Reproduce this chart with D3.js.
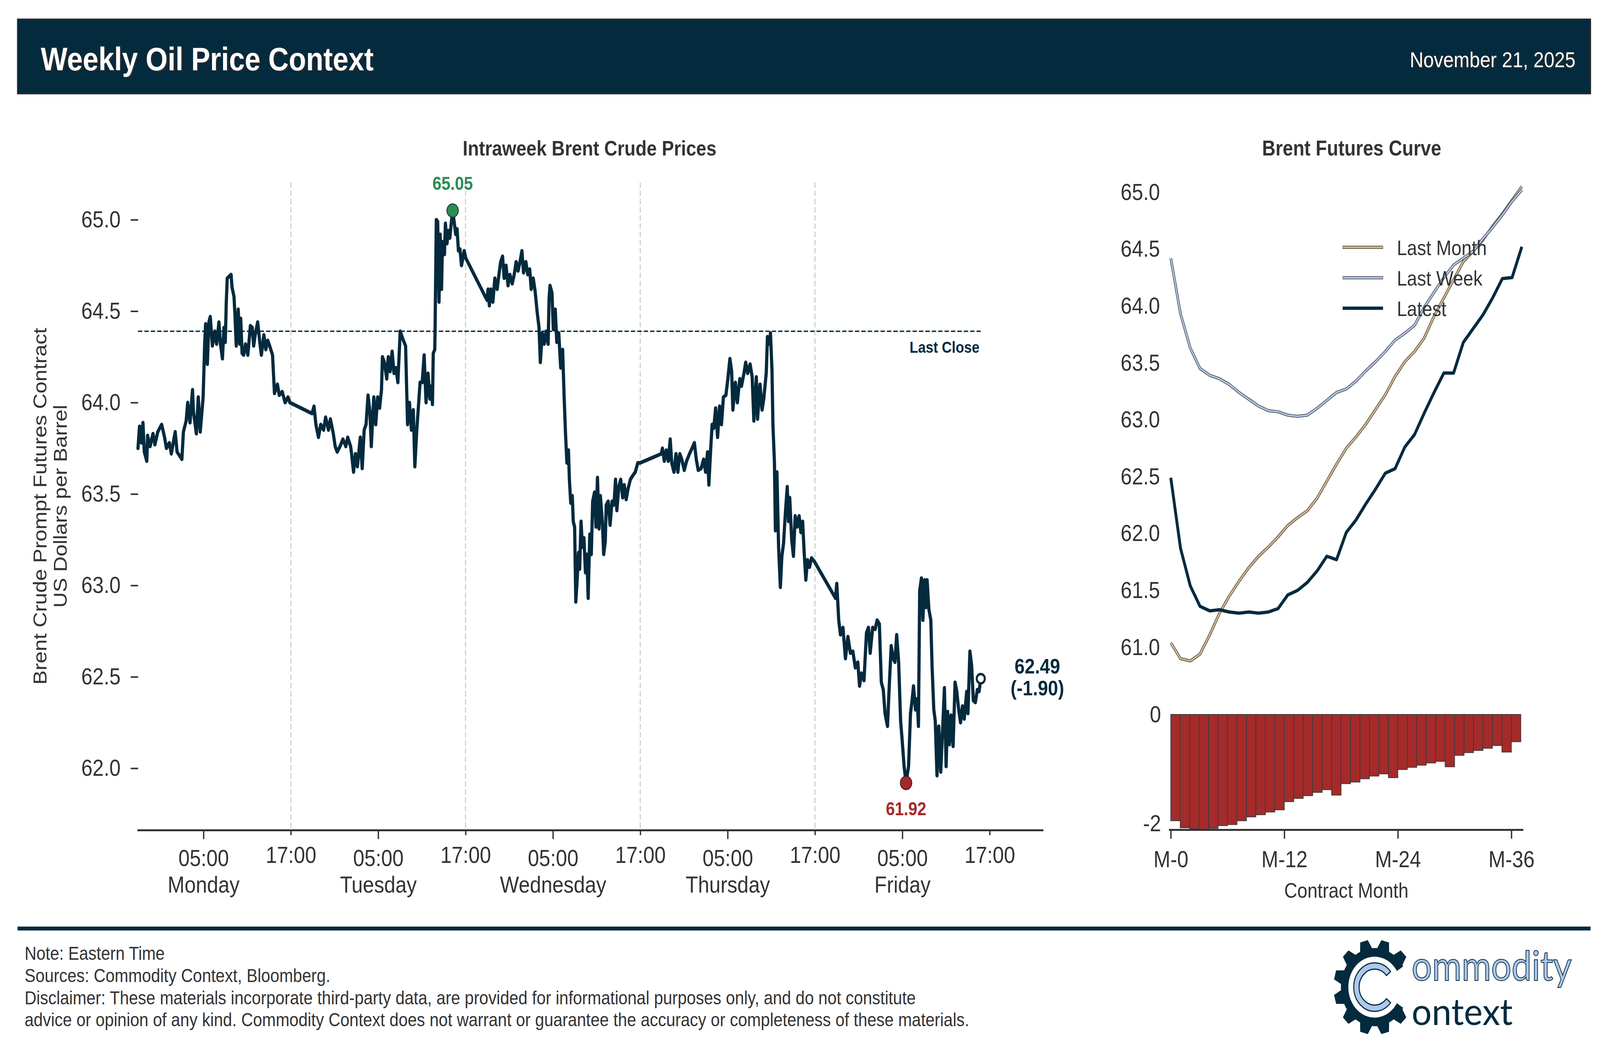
<!DOCTYPE html>
<html>
<head>
<meta charset="utf-8">
<script src="https://cdn.jsdelivr.net/npm/d3@7"></script>
<style>
html,body{margin:0;padding:0;background:#fff;overflow:hidden;width:100%;height:100%;}
svg{display:block;width:100vw;height:100vh;}
</style>
</head>
<body>
<svg id="chart" viewBox="0 0 4749 2711" preserveAspectRatio="none"></svg>
<script>
// ---------------- DATA ----------------
const headerTitle = "Weekly Oil Price Context";
const headerDate = "November 21, 2025";
const leftTitle = "Intraweek Brent Crude Prices";
const rightTitle = "Brent Futures Curve";
const yLabelLines = ["Brent Crude Prompt Futures Contract", "US Dollars per Barrel"];

// intraweek prices: hours relative to Monday 00:00 ET, and prices
const priceHours = [
-4.00,-3.79,-3.53,-3.32,-3.13,-2.79,-2.68,-2.34,-1.94,-1.68,-1.28,-0.75,-0.35,-0.09,0.31,0.58,1.11,1.37,2.03,2.24,
2.62,2.83,3.15,3.49,3.62,4.02,4.28,4.55,4.95,5.16,5.29,5.53,5.74,5.93,6.22,6.54,6.80,7.12,7.33,7.60,
7.81,7.99,8.13,8.26,8.52,8.79,8.92,9.19,9.32,9.50,9.77,9.98,10.11,10.30,10.51,10.77,11.09,11.44,11.70,11.89,
12.10,12.44,12.76,12.95,13.29,13.56,13.82,14.09,14.48,14.75,15.15,15.41,15.81,16.21,16.60,16.87,
19.91,20.18,20.44,20.79,21.11,21.50,21.77,22.17,22.43,22.83,23.09,23.36,23.75,24.15,24.55,24.81,25.21,25.34,25.61,25.87,
26.14,26.54,26.80,27.07,27.33,27.60,27.86,28.05,28.39,28.66,28.92,29.19,29.45,29.58,29.85,30.17,30.38,30.64,30.91,31.17,
31.44,31.70,32.02,32.36,32.76,33.03,33.29,33.56,33.82,34.03,34.30,34.56,34.75,35.04,35.31,35.57,35.84,36.10,36.29,36.45,
36.56,36.77,36.82,36.98,37.17,37.35,37.51,37.70,37.83,38.10,38.23,38.45,38.63,38.84,39.03,39.22,39.43,39.64,39.83,40.02,
40.23,40.44,40.63,40.81,41.03,
43.95,44.09,44.27,44.49,44.75,45.02,45.34,45.55,45.82,46.08,46.30,46.56,46.83,47.09,47.41,47.68,47.95,48.21,48.48,48.74,
48.96,49.28,49.54,49.81,50.02,50.29,50.55,50.82,51.09,51.27,51.54,51.80,52.07,52.34,52.47,52.60,52.87,53.05,53.32,53.53,
53.80,54.07,54.33,54.54,54.73,54.92,55.13,55.26,55.45,55.66,55.79,55.98,56.14,56.33,56.51,56.67,56.86,57.05,57.26,57.47,
57.66,57.84,58.06,58.27,58.46,58.72,58.91,59.12,59.33,59.52,59.79,59.97,60.19,60.32,60.59,60.85,61.12,61.38,61.60,61.78,
62.05,62.31,62.58,62.79,63.06,63.33,63.64,63.96,64.31,64.66,64.98,
67.90,68.04,68.30,68.57,68.84,69.11,69.32,69.63,69.90,70.16,70.43,70.70,71.04,71.36,71.76,72.11,72.43,72.69,72.96,73.36,
73.70,73.97,74.24,74.42,74.69,74.87,75.09,75.35,75.62,75.89,76.15,76.42,76.76,77.03,77.31,77.55,77.72,78.06,78.33,78.67,
78.90,79.24,79.48,79.75,80.09,80.37,80.60,80.94,81.11,81.45,81.73,81.96,82.30,82.47,82.75,82.88,83.09,83.22,83.43,83.56,
83.77,84.00,84.24,84.45,84.68,84.92,85.19,85.36,85.53,85.80,86.04,86.28,86.55,86.82,87.06,87.30,87.50,87.74,87.98,88.25,
88.52,88.93,
91.82,91.99,92.26,92.50,92.84,93.18,93.52,93.86,94.20,94.54,94.88,95.12,95.39,95.73,96.07,96.34,96.58,96.92,97.26,97.53,
97.84,98.11,98.38,98.62,98.96,99.20,99.47,99.74,99.98,100.22,100.49,100.76,101.00,101.24,101.51,101.85,102.12,102.36,102.53,102.80,
103.04,103.21,103.38,103.62,103.82,104.06,104.23,104.40,104.64,104.91,105.08,105.32,105.52,105.76,106.00,106.27,106.54,106.78,107.01,107.22,
107.46,107.69,107.97,108.24,108.48,108.71,108.99,109.26,109.50,109.84,110.01,110.28,110.52,110.75,111.03,111.30,111.54,111.77
];
const priceValues = [
63.75,63.87,63.78,63.89,63.73,63.68,63.82,63.76,63.83,63.77,63.84,63.88,63.81,63.75,63.78,63.72,63.84,63.73,63.69,63.84,
63.90,64.00,63.89,64.07,63.95,63.83,64.03,63.84,64.03,64.32,64.43,64.21,64.44,64.47,64.31,64.39,64.32,64.44,64.32,64.24,
64.41,64.33,64.55,64.68,64.69,64.70,64.63,64.58,64.48,64.31,64.51,64.32,64.46,64.27,64.26,64.32,64.26,64.42,64.41,64.31,
64.37,64.44,64.32,64.26,64.37,64.29,64.34,64.31,64.26,64.05,64.10,64.04,64.06,64.00,64.03,64.00,
63.94,63.98,63.88,63.81,63.88,63.85,63.92,63.85,63.91,63.83,63.76,63.73,63.76,63.80,63.76,63.81,63.76,63.72,63.62,63.72,
63.65,63.81,63.64,63.85,63.88,64.04,63.95,63.76,64.03,63.88,64.03,63.97,64.07,64.25,64.22,64.13,64.25,64.17,64.28,64.16,
64.19,64.11,64.39,64.35,64.31,63.88,64.00,63.85,63.96,63.65,63.85,64.00,64.11,64.11,64.26,64.00,64.16,64.02,64.09,63.99,
64.27,64.29,64.43,65.00,64.99,64.55,64.92,64.62,64.88,64.81,64.98,64.87,64.94,64.90,64.98,65.05,64.99,64.92,64.95,64.83,
64.84,64.75,64.79,64.83,64.79,
64.56,64.62,64.53,64.62,64.55,64.68,64.62,64.69,64.77,64.80,64.68,64.75,64.64,64.70,64.65,64.70,64.77,64.72,64.77,64.83,
64.71,64.77,64.70,64.73,64.62,64.68,64.61,64.50,64.41,64.22,64.38,64.32,64.39,64.32,64.57,64.64,64.60,64.40,64.51,64.33,
64.38,64.19,64.29,64.03,63.83,63.67,63.74,63.58,63.45,63.49,63.35,63.32,62.91,63.03,63.18,63.09,63.35,63.21,63.26,63.07,
63.17,62.93,63.28,63.17,63.46,63.51,63.32,63.59,63.31,63.49,63.35,63.17,63.24,63.44,63.46,63.33,63.46,63.44,63.58,63.41,
63.54,63.58,63.48,63.55,63.47,63.53,63.58,63.60,63.62,63.67,63.67,
63.72,63.75,63.68,63.74,63.68,63.80,63.67,63.62,63.72,63.62,63.72,63.69,63.63,63.68,63.72,63.75,63.78,63.69,63.63,63.64,
63.69,63.62,63.73,63.55,63.76,63.88,63.86,63.97,63.81,63.98,63.88,64.03,64.04,64.13,64.24,64.17,63.96,64.11,64.00,64.13,
64.09,64.16,64.22,64.16,64.21,64.14,63.90,64.14,63.91,64.10,63.96,64.02,64.16,64.36,64.32,64.38,64.18,63.88,63.67,63.30,
63.62,63.21,62.99,63.16,63.23,63.39,63.54,63.35,63.48,63.25,63.16,63.38,63.32,63.38,63.29,63.35,63.19,63.03,63.14,63.10,
63.15,63.13,
62.93,63.01,62.81,62.73,62.77,62.60,62.72,62.63,62.64,62.55,62.58,62.45,62.52,62.48,62.74,62.77,62.63,62.77,62.76,62.81,
62.79,62.47,62.43,62.30,62.23,62.45,62.67,62.60,62.58,62.73,62.58,62.26,62.14,62.01,61.92,62.01,62.30,62.38,62.45,62.32,
62.38,62.23,62.97,63.04,62.81,63.03,62.88,63.03,62.87,62.81,62.56,62.32,62.26,61.96,62.23,61.98,62.22,62.44,62.01,62.31,
62.13,62.29,62.12,62.47,62.42,62.33,62.25,62.34,62.27,62.42,62.30,62.64,62.56,62.37,62.36,62.43,62.42,62.49
];
const lastClose = 64.39;
const priceChange = -1.90;

const majorTickHours = [5, 29, 53, 77, 101];
const majorTickTimes = ["05:00", "05:00", "05:00", "05:00", "05:00"];
const dayNames = ["Monday", "Tuesday", "Wednesday", "Thursday", "Friday"];
const minorTickHours = [17, 41, 65, 89, 113];
const minorTickTimes = ["17:00", "17:00", "17:00", "17:00", "17:00"];
const gridHours = [17, 41, 65, 89];
const priceTicks = [62.0, 62.5, 63.0, 63.5, 64.0, 64.5, 65.0];

// futures curves M-0 .. M-36
const curveMonths = d3.range(0, 37);
const lastMonthCurve = [61.04,60.90,60.88,60.94,61.11,61.30,61.45,61.58,61.70,61.80,61.88,61.97,62.07,62.14,62.20,62.31,62.46,62.61,62.75,62.85,
62.96,63.09,63.22,63.38,63.51,63.60,63.72,63.91,64.07,64.23,64.39,64.48,64.58,64.70,64.81,64.93,65.05];
const lastWeekCurve = [64.42,63.93,63.63,63.45,63.39,63.36,63.31,63.24,63.18,63.12,63.08,63.07,63.04,63.03,63.04,63.10,63.17,63.24,63.27,63.34,
63.43,63.51,63.60,63.70,63.76,63.83,63.99,64.12,64.25,64.36,64.42,64.48,64.59,64.69,64.80,64.92,65.02];
const latestCurve = [62.49,61.87,61.54,61.36,61.32,61.33,61.31,61.30,61.31,61.30,61.31,61.34,61.46,61.50,61.57,61.67,61.80,61.77,62.01,62.12,
62.26,62.39,62.53,62.57,62.76,62.87,63.06,63.24,63.41,63.41,63.68,63.80,63.92,64.07,64.24,64.25,64.52];
const curveTicks = [61.0, 61.5, 62.0, 62.5, 63.0, 63.5, 64.0, 64.5, 65.0];
const legendLabels = ["Last Month", "Last Week", "Latest"];

// weekly change by contract month (latest - last week)
const changeValues = [-1.95,-2.08,-2.10,-2.12,-2.09,-2.04,-2.02,-1.95,-1.88,-1.84,-1.79,-1.75,-1.60,-1.54,-1.49,-1.43,-1.38,-1.48,-1.27,-1.24,
-1.18,-1.13,-1.09,-1.16,-1.01,-0.97,-0.93,-0.89,-0.86,-0.96,-0.75,-0.70,-0.66,-0.62,-0.57,-0.69,-0.50];
const changeTicks = [0, -2];
const monthTicks = [0, 12, 24, 36];

const footerLines = [
  "Note: Eastern Time",
  "Sources: Commodity Context, Bloomberg.",
  "Disclaimer: These materials incorporate third-party data, are provided for informational purposes only, and do not constitute",
  "advice or opinion of any kind. Commodity Context does not warrant or guarantee the accuracy or completeness of these materials."
];

// ---------------- STYLE ----------------
const NAVY = "#042a3e";
const TXT = "#333333";
const FONT = "'Liberation Sans', Arial, Helvetica, sans-serif";
const GREEN = "#2e8b57";
const RED = "#a52a2a";
const TAN = "#d6b888";
const LBLUE = "#aec7ec";

const svg = d3.select("#chart").style("font-family", FONT);

// ---------------- HEADER ----------------
svg.append("rect").attr("x", 52).attr("y", 49).attr("width", 4669).attr("height", 191)
  .attr("fill", NAVY).attr("stroke", "#2a2a2a").attr("stroke-width", 3);
[[4, 3, "#2b2b2b"], [0, 0, "#ffffff"]].forEach(([dx, dy, c]) => {
  svg.append("text").attr("x", 121 + dx).attr("y", 180 + dy).attr("fill", c)
    .attr("font-size", 84).attr("font-weight", "bold").text(headerTitle);
  svg.append("text").attr("x", 4676 + dx).attr("y", 172 + dy).attr("fill", c)
    .attr("font-size", 56).attr("text-anchor", "end").text(headerDate);
});

// ---------------- MAIN CHART ----------------
const x = d3.scaleLinear().domain([-4.1, 120.35]).range([407.4, 3096.4]);
const y = d3.scaleLinear().domain([61.662, 65.204]).range([2125, 467]);

svg.append("text").attr("x", 1750).attr("y", 398).attr("text-anchor", "middle")
  .attr("font-size", 54).attr("font-weight", "bold").attr("fill", TXT).text(leftTitle);

// y label
yLabelLines.forEach((t, i) => {
  svg.append("text").attr("transform", `translate(${138 + i * 60},1296) rotate(-90)`)
    .attr("text-anchor", "middle").attr("font-size", 55).attr("fill", TXT).text(t);
});

// gridlines
svg.append("g").selectAll("line").data(gridHours).join("line")
  .attr("x1", d => x(d)).attr("x2", d => x(d)).attr("y1", 467).attr("y2", 2125)
  .attr("stroke", "#cfcfcf").attr("stroke-width", 3.5).attr("stroke-dasharray", "14,7");

// last close line
svg.append("line").attr("x1", x(priceHours[0])).attr("x2", x(priceHours[priceHours.length - 1]))
  .attr("y1", y(lastClose)).attr("y2", y(lastClose))
  .attr("stroke", NAVY).attr("stroke-width", 3.5).attr("stroke-dasharray", "13,6");
svg.append("text").attr("x", x(priceHours[priceHours.length - 1]) - 4).attr("y", y(lastClose) + 55)
  .attr("text-anchor", "end").attr("font-size", 41).attr("font-weight", "bold").attr("fill", NAVY).text("Last Close");

// y axis
const yAxis = svg.append("g").attr("transform", "translate(410,0)")
  .call(d3.axisLeft(y).tickValues(priceTicks).tickSize(22).tickPadding(30).tickFormat(d3.format(".1f")));
yAxis.select(".domain").remove();
yAxis.selectAll(".tick line").attr("stroke", TXT).attr("stroke-width", 4);
yAxis.selectAll(".tick text").attr("font-size", 60).attr("fill", TXT).attr("font-family", FONT);

// x axis: major
const xMajor = svg.append("g").attr("transform", "translate(0,2125)")
  .call(d3.axisBottom(x).tickValues(majorTickHours).tickSize(23).tickSizeOuter(0).tickFormat((d, i) => majorTickTimes[i]));
xMajor.select(".domain").attr("stroke", TXT).attr("stroke-width", 5);
xMajor.selectAll(".tick line").attr("stroke", TXT).attr("stroke-width", 4);
xMajor.selectAll(".tick text").attr("font-size", 60).attr("fill", TXT).attr("font-family", FONT)
  .attr("y", 0).attr("dy", null)
  .each(function (d, i) {
    const t = d3.select(this);
    t.text(null);
    t.append("tspan").attr("x", 0).attr("y", 92).text(majorTickTimes[i]);
    t.append("tspan").attr("x", 0).attr("y", 160).text(dayNames[i]);
  });
// x axis: minor
const xMinor = svg.append("g").attr("transform", "translate(0,2125)")
  .call(d3.axisBottom(x).tickValues(minorTickHours).tickSize(13).tickSizeOuter(0).tickFormat((d, i) => minorTickTimes[i]));
xMinor.select(".domain").remove();
xMinor.selectAll(".tick line").attr("stroke", TXT).attr("stroke-width", 4);
xMinor.selectAll(".tick text").attr("font-size", 60).attr("fill", TXT).attr("font-family", FONT)
  .attr("y", 84).attr("dy", null);

// price line
const pts = priceHours.map((h, i) => [h, priceValues[i]]);
svg.append("path").datum(pts)
  .attr("d", d3.line().x(d => x(d[0])).y(d => y(d[1])))
  .attr("fill", "none").attr("stroke", NAVY).attr("stroke-width", 9.5)
  .attr("stroke-linejoin", "round").attr("stroke-linecap", "round");

// max / min / last markers
const maxIdx = d3.maxIndex(priceValues), minIdx = d3.minIndex(priceValues);
const lastIdx = priceValues.length - 1;
svg.append("circle").attr("cx", x(priceHours[maxIdx])).attr("cy", y(priceValues[maxIdx])).attr("r", 17)
  .attr("fill", GREEN).attr("stroke", "#1d3b2c").attr("stroke-width", 2.5);
svg.append("text").attr("x", x(priceHours[maxIdx])).attr("y", 486).attr("text-anchor", "middle")
  .attr("font-size", 48).attr("font-weight", "bold").attr("fill", GREEN).text(priceValues[maxIdx].toFixed(2));
svg.append("circle").attr("cx", x(priceHours[minIdx])).attr("cy", y(priceValues[minIdx])).attr("r", 17)
  .attr("fill", RED).attr("stroke", "#4a1a1a").attr("stroke-width", 2.5);
svg.append("text").attr("x", x(priceHours[minIdx])).attr("y", 2087).attr("text-anchor", "middle")
  .attr("font-size", 48).attr("font-weight", "bold").attr("fill", RED).text(priceValues[minIdx].toFixed(2));
svg.append("circle").attr("cx", x(priceHours[lastIdx])).attr("cy", y(priceValues[lastIdx])).attr("r", 12)
  .attr("fill", "#ffffff").attr("stroke", NAVY).attr("stroke-width", 6);
const ann = svg.append("text").attr("text-anchor", "middle").attr("font-size", 54)
  .attr("font-weight", "bold").attr("fill", NAVY);
ann.append("tspan").attr("x", 3079).attr("y", 1724).text(priceValues[lastIdx].toFixed(2));
ann.append("tspan").attr("x", 3079).attr("y", 1780).text(`(${priceChange.toFixed(2)})`);

// ---------------- FUTURES CURVE ----------------
svg.append("text").attr("x", 4012).attr("y", 398).attr("text-anchor", "middle")
  .attr("font-size", 55).attr("font-weight", "bold").attr("fill", TXT).text(rightTitle);

const xc = d3.scaleLinear().domain([0, 36]).range([3475, 4517]);
const yc = d3.scaleLinear().domain([61, 65]).range([1657, 492]);

const ycAxis = svg.append("g").attr("transform", "translate(3463,0)")
  .call(d3.axisLeft(yc).tickValues(curveTicks).tickSize(0).tickPadding(20).tickFormat(d3.format(".1f")));
ycAxis.select(".domain").remove();
ycAxis.selectAll(".tick text").attr("font-size", 60).attr("fill", TXT).attr("font-family", FONT);

const curveLine = d3.line().x((d, i) => xc(curveMonths[i])).y(d => yc(d));
function outlined(data, color) {
  svg.append("path").datum(data).attr("d", curveLine).attr("fill", "none")
    .attr("stroke", "#3a3a3a").attr("stroke-width", 7.5).attr("stroke-linejoin", "round");
  svg.append("path").datum(data).attr("d", curveLine).attr("fill", "none")
    .attr("stroke", color).attr("stroke-width", 4.5).attr("stroke-linejoin", "round");
}
outlined(lastMonthCurve, TAN);
outlined(lastWeekCurve, LBLUE);
svg.append("path").datum(latestCurve).attr("d", curveLine).attr("fill", "none")
  .attr("stroke", NAVY).attr("stroke-width", 8.5).attr("stroke-linejoin", "round");

// legend
const legY = [633, 711, 789];
legendLabels.forEach((lab, i) => {
  if (i < 2) {
    svg.append("line").attr("x1", 3985).attr("x2", 4105).attr("y1", legY[i]).attr("y2", legY[i])
      .attr("stroke", "#3a3a3a").attr("stroke-width", 8);
    svg.append("line").attr("x1", 3986).attr("x2", 4104).attr("y1", legY[i]).attr("y2", legY[i])
      .attr("stroke", i === 0 ? TAN : LBLUE).attr("stroke-width", 5);
  } else {
    svg.append("line").attr("x1", 3985).attr("x2", 4105).attr("y1", legY[i]).attr("y2", legY[i])
      .attr("stroke", NAVY).attr("stroke-width", 8.5);
  }
  svg.append("text").attr("x", 4146).attr("y", legY[i] + 20).attr("font-size", 54)
    .attr("fill", TXT).text(lab);
});

// ---------------- CHANGE BARS ----------------
const xb = d3.scaleLinear().domain([-0.2135, 37.25]).range([3469, 4521]);
const yb = d3.scaleLinear().domain([-2, 0]).range([2108, 1829]);

svg.append("g").selectAll("rect").data(changeValues).join("rect")
  .attr("x", (d, i) => xb(i)).attr("width", (d, i) => xb(i + 1) - xb(i))
  .attr("y", yb(0)).attr("height", d => yb(d) - yb(0))
  .attr("fill", RED).attr("stroke", "#3a3a3a").attr("stroke-width", 2);

const ybAxis = svg.append("g").attr("transform", "translate(3466,0)")
  .call(d3.axisLeft(yb).tickValues(changeTicks).tickSize(0).tickPadding(20).tickFormat(d => d === 0 ? "0" : "-" + Math.abs(d)));
ybAxis.select(".domain").remove();
ybAxis.selectAll(".tick text").attr("font-size", 60).attr("fill", TXT).attr("font-family", FONT);

const xbAxis = svg.append("g").attr("transform", "translate(0,2124)")
  .call(d3.axisBottom(xb).tickValues(monthTicks).tickSize(23).tickSizeOuter(0).tickFormat(d => "M-" + d));
xbAxis.select(".domain").attr("stroke", TXT).attr("stroke-width", 5);
xbAxis.selectAll(".tick line").attr("stroke", TXT).attr("stroke-width", 4);
xbAxis.selectAll(".tick text").attr("font-size", 60).attr("fill", TXT).attr("font-family", FONT)
  .attr("y", 96).attr("dy", null);
svg.append("text").attr("x", 3996).attr("y", 2298).attr("text-anchor", "middle")
  .attr("font-size", 54).attr("fill", TXT).text("Contract Month");

// ---------------- FOOTER ----------------
svg.append("rect").attr("x", 52).attr("y", 2372).attr("width", 4669).attr("height", 10).attr("fill", NAVY);
const footY = [2457, 2514, 2571, 2627];
footerLines.forEach((t, i) => {
  svg.append("text").attr("x", 73).attr("y", footY[i]).attr("font-size", 48.6).attr("fill", TXT).text(t);
});

// ---------------- LOGO ----------------
(function logo() {
  const cx = 4080, cy = 2527;
  const Rr = 100, Rt = 122, Rh = 78;
  const rad = a => a * Math.PI / 180;
  const P = (r, a) => [cx + r * Math.cos(rad(a)), cy + r * Math.sin(rad(a))];
  const teeth = d3.range(1, 11).map(k => 15 + 30 * k);
  let gp = [];
  let a = 32;
  gp.push(P(Rr, a));
  teeth.forEach(t => {
    for (let s = a; s < t - 10.5; s += 2) gp.push(P(Rr, s));
    gp.push(P(Rr, t - 10.5)); gp.push(P(Rt, t - 5.5));
    gp.push(P(Rt, t + 5.5)); gp.push(P(Rr, t + 10.5));
    a = t + 10.5;
  });
  for (let s = a; s <= 328; s += 2) gp.push(P(Rr, s));
  gp.push(P(Rr, 328));
  const hEnd = P(Rh, 328), hStart = P(Rh, 32);
  let d = "M" + gp.map(p => p[0].toFixed(1) + "," + p[1].toFixed(1)).join("L");
  d += `L${hEnd[0]},${hEnd[1]}A${Rh},${Rh} 0 1 0 ${hStart[0]},${hStart[1]}Z`;
  svg.append("path").attr("d", d).attr("fill", NAVY);
  // inner C
  const ro = 62, ri = 46;
  const o1 = P(ro, 40), o2 = P(ro, 320), i2 = P(ri, 320), i1 = P(ri, 40);
  svg.append("path")
    .attr("d", `M${o1[0]},${o1[1]}A${ro},${ro} 0 1 1 ${o2[0]},${o2[1]}L${i2[0]},${i2[1]}A${ri},${ri} 0 1 0 ${i1[0]},${i1[1]}Z`)
    .attr("fill", LBLUE).attr("stroke", NAVY).attr("stroke-width", 3);
  svg.append("text").attr("x", 4190).attr("y", 2510).attr("font-family", "Lato, 'Open Sans', sans-serif")
    .attr("font-weight", 400).attr("font-size", 104).attr("textLength", 475).attr("lengthAdjust", "spacingAndGlyphs")
    .attr("fill", LBLUE).attr("stroke", NAVY).attr("stroke-width", 2).text("ommodity");
  svg.append("text").attr("x", 4190).attr("y", 2624).attr("font-family", "Lato, 'Open Sans', sans-serif")
    .attr("font-weight", 400).attr("font-size", 94).attr("textLength", 300).attr("lengthAdjust", "spacingAndGlyphs")
    .attr("fill", NAVY).text("ontext");
})();
</script>
</body>
</html>
